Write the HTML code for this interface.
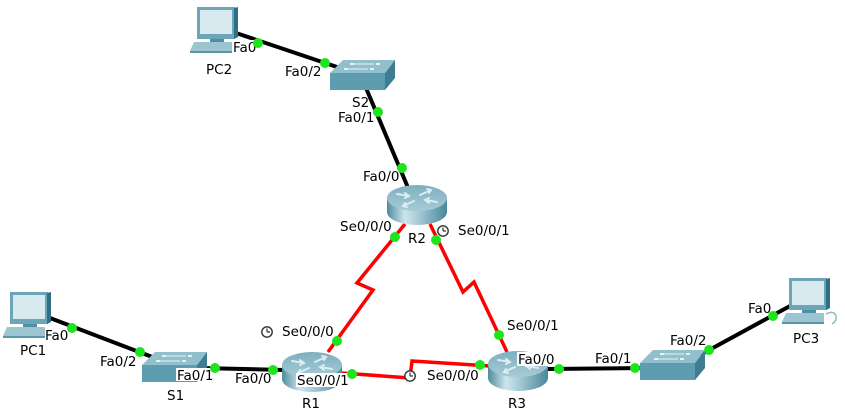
<!DOCTYPE html>
<html><head><meta charset="utf-8"><style>
html,body{margin:0;padding:0;background:#fff;}
svg{display:block;}
text{font-family:"DejaVu Sans","Liberation Sans",sans-serif;font-size:13.5px;fill:#000;}
</style></head><body>
<svg width="845" height="415" viewBox="0 0 845 415" xmlns="http://www.w3.org/2000/svg">
<defs>
<linearGradient id="rside" x1="0" y1="0" x2="1" y2="0">
<stop offset="0" stop-color="#4f8c9e"/><stop offset="0.3" stop-color="#cfe5ec"/><stop offset="0.5" stop-color="#a9cdd8"/><stop offset="1" stop-color="#4a879a"/>
</linearGradient>
<linearGradient id="rtop" x1="0" y1="0" x2="0" y2="1">
<stop offset="0" stop-color="#7eafbf"/><stop offset="1" stop-color="#a6cbd6"/>
</linearGradient>
<g id="router">
<path d="M0,13 L0,27 A30,13 0 0 0 60,27 L60,13 Z" fill="url(#rside)"/>
<ellipse cx="30" cy="13" rx="30" ry="13" fill="url(#rtop)"/>
<g stroke="#dcedf2" stroke-width="2" fill="none" stroke-linecap="round">
<path d="M10,9 L22,11 M18,8 L22,11 L18,13"/>
<path d="M50,17 L38,15 M42,13 L38,15 L42,18"/>
<path d="M33,10 L44,5 M40,4 L44,5 L42,8"/>
<path d="M27,16 L16,21 M18,18 L16,21 L20,22"/>
</g>
</g>
<g id="switch">
<polygon points="13,0 65,0 55,13 0,13" fill="#92bfcc"/>
<polygon points="0,13 55,13 55,30 0,30" fill="#5e9cb0"/>
<polygon points="55,13 65,0 65,18 55,30" fill="#3c7d92"/>
<g fill="#e6f2f5">
<rect x="20" y="3" width="4" height="2"/><rect x="46" y="3" width="4" height="2"/>
<rect x="14" y="8" width="4" height="2"/><rect x="40" y="8" width="4" height="2"/>
</g>
<g stroke="#e6f2f5" stroke-width="1" fill="none">
<path d="M24,4 L44,4 M18,9 L38,9"/>
</g>
</g>
<g id="pc">
<rect x="7" y="0" width="38" height="32" fill="#6aa5b8"/>
<polygon points="44,1 48,0 48,30 44,32" fill="#2f6f85"/>
<rect x="10" y="3" width="32" height="24" fill="#d8e9f0"/>
<rect x="20" y="32" width="14" height="3" fill="#4f8ea3"/>
<polygon points="4,35 42,35 42,44 0,44" fill="#9cc4d1"/>
<rect x="0" y="44" width="42" height="2" fill="#5b95a8"/>
</g>
<g id="clock">
<circle cx="0" cy="0" r="5.2" fill="#fff" stroke="#333" stroke-width="1.4"/>
<path d="M0,0 L0,-3.5 M0,0 L3,0" stroke="#333" stroke-width="1.2" fill="none"/>
</g>
</defs>

<!-- links -->
<g stroke="#000" stroke-width="4" fill="none" stroke-linecap="butt">
<line x1="236" y1="33" x2="340" y2="68"/>
<line x1="366" y1="88" x2="409" y2="190"/>
<line x1="50" y1="318" x2="155" y2="358"/>
<line x1="200" y1="368" x2="285" y2="370"/>
<line x1="547" y1="369" x2="642" y2="368"/>
<line x1="700" y1="355" x2="790" y2="306"/>
</g>
<g stroke="#ff0000" stroke-width="3.5" fill="none" stroke-linejoin="miter">
<polyline points="405,224 357,283 373,290 328,352"/>
<polyline points="430,224 463,292 474,282 507,352"/>
<polyline points="342,373 410,378 412,361 490,366"/>
</g>

<!-- devices -->
<use href="#pc" x="190" y="7"/>
<use href="#pc" x="3" y="292"/>
<use href="#pc" x="782" y="278"/>
<path d="M826,314 q8,-4 10,2 q1,5 -4,8" stroke="#8fb9c7" stroke-width="1.5" fill="none"/>
<use href="#switch" x="330" y="60"/>
<use href="#switch" x="142" y="352"/>
<use href="#switch" x="640" y="350"/>
<use href="#router" x="387" y="185"/>
<use href="#router" x="282" y="352"/>
<use href="#router" x="488" y="351"/>

<!-- label backgrounds -->
<g fill="#fff">
<rect x="232" y="40" width="25" height="13"/>
<rect x="176" y="368" width="39" height="13"/>
<rect x="296" y="373" width="54" height="14"/>
<rect x="517" y="352" width="40" height="14"/>
</g>

<!-- clocks -->
<use href="#clock" x="443" y="231"/>
<use href="#clock" x="267" y="332"/>
<use href="#clock" x="410" y="376"/>

<!-- labels -->
<text x="206" y="74">PC2</text>
<text x="233" y="52">Fa0</text>
<text x="285" y="76">Fa0/2</text>
<text x="352" y="107">S2</text>
<text x="338" y="122">Fa0/1</text>
<text x="363" y="181">Fa0/0</text>
<text x="340" y="231">Se0/0/0</text>
<text x="408" y="243">R2</text>
<text x="458" y="235">Se0/0/1</text>
<text x="20" y="355">PC1</text>
<text x="45" y="340">Fa0</text>
<text x="100" y="366">Fa0/2</text>
<text x="167" y="400">S1</text>
<text x="177" y="380">Fa0/1</text>
<text x="235" y="383">Fa0/0</text>
<text x="282" y="336">Se0/0/0</text>
<text x="297" y="385">Se0/0/1</text>
<text x="302" y="408">R1</text>
<text x="427" y="380">Se0/0/0</text>
<text x="507" y="330">Se0/0/1</text>
<text x="518" y="364">Fa0/0</text>
<text x="508" y="408">R3</text>
<text x="595" y="363">Fa0/1</text>
<text x="670" y="345">Fa0/2</text>
<text x="748" y="313">Fa0</text>
<text x="793" y="343">PC3</text>

<!-- port dots -->
<g fill="#1ee41e">
<circle cx="258" cy="43" r="5"/>
<circle cx="325" cy="63" r="5"/>
<circle cx="378" cy="112" r="5"/>
<circle cx="402" cy="168" r="5"/>
<circle cx="395" cy="237" r="5"/>
<circle cx="436" cy="240" r="5"/>
<circle cx="337" cy="341" r="5"/>
<circle cx="499" cy="335" r="5"/>
<circle cx="352" cy="374" r="5"/>
<circle cx="480" cy="365" r="5"/>
<circle cx="72" cy="328" r="5"/>
<circle cx="140" cy="352" r="5"/>
<circle cx="215" cy="368" r="5"/>
<circle cx="273" cy="370" r="5"/>
<circle cx="559" cy="369" r="5"/>
<circle cx="635" cy="368" r="5"/>
<circle cx="709" cy="350" r="5"/>
<circle cx="773" cy="316" r="5"/>
</g>
</svg>
</body></html>
